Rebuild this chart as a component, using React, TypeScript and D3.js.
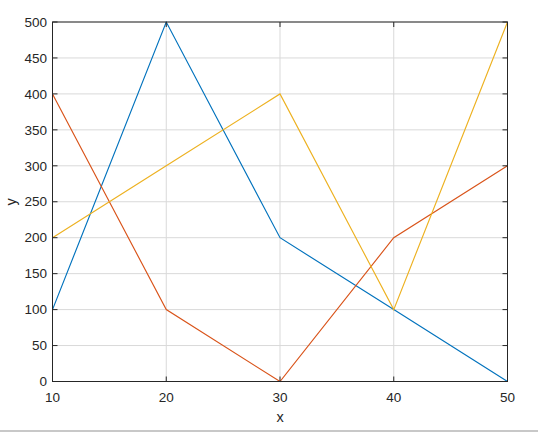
import React from "react";
import * as d3 from "d3";

const xs = [10, 20, 30, 40, 50];
const seriesBlue = [100, 500, 200, 100, 0];
const seriesRed = [400, 100, 0, 200, 300];
const seriesYellow = [200, 300, 400, 100, 500];
const xTicks = [10, 20, 30, 40, 50];
const yTicks = [0, 50, 100, 150, 200, 250, 300, 350, 400, 450, 500];
const colors = ["#0072BD", "#D95319", "#EDB120"];

export default function App() {
  const W = 538, H = 433;
  const left = 52.5, right = 507.5, top = 22, bottom = 381.5;
  const x = d3.scaleLinear().domain([10, 50]).range([left, right]);
  const y = d3.scaleLinear().domain([0, 500]).range([bottom, top]);
  const line = d3.line<number>().x((_, i) => x(xs[i])).y((d) => y(d));
  const series = [seriesBlue, seriesRed, seriesYellow];
  const font = "Liberation Sans, Arial, sans-serif";
  const tl = 5;
  return (
    <svg width={W} height={H} style={{ position: "absolute", left: 0, top: 0, background: "#fff" }} fontFamily={font}>
      <rect x={0} y={0} width={W} height={H} fill="#fff" />
      {xTicks.map((t) => (
        <line key={"gx" + t} x1={x(t)} x2={x(t)} y1={top} y2={bottom} stroke="#d9d9d9" strokeWidth={1} />
      ))}
      {yTicks.map((t) => (
        <line key={"gy" + t} x1={left} x2={right} y1={y(t)} y2={y(t)} stroke="#d9d9d9" strokeWidth={1} />
      ))}
      {series.map((s, i) => (
        <path key={i} d={line(s) || ""} fill="none" stroke={colors[i]} strokeWidth={1.15} />
      ))}
      {xTicks.map((t) => (
        <g key={"tx" + t}>
          <line x1={x(t)} x2={x(t)} y1={bottom} y2={bottom - tl} stroke="#262626" />
          <line x1={x(t)} x2={x(t)} y1={top} y2={top + tl} stroke="#262626" />
          <text x={x(t)} y={402} textAnchor="middle" fontSize={13.5} fill="#262626">{t}</text>
        </g>
      ))}
      {yTicks.map((t) => (
        <g key={"ty" + t}>
          <line x1={left} x2={left + tl} y1={y(t)} y2={y(t)} stroke="#262626" />
          <line x1={right} x2={right - tl} y1={y(t)} y2={y(t)} stroke="#262626" />
          <text x={47} y={y(t) + 4.7} textAnchor="end" fontSize={13.5} fill="#262626">{t}</text>
        </g>
      ))}
      <rect x={left} y={top} width={right - left} height={bottom - top} fill="none" stroke="#262626" strokeWidth={1} />
      <text x={(left + right) / 2} y={422} textAnchor="middle" fontSize={14.5} fill="#262626">x</text>
      <text transform={`translate(16, ${(top + bottom) / 2}) rotate(-90)`} textAnchor="middle" fontSize={14.5} fill="#262626">y</text>
      <line x1={0} x2={W} y1={431} y2={431} stroke="#c8c8c8" strokeWidth={2} />
    </svg>
  );
}
